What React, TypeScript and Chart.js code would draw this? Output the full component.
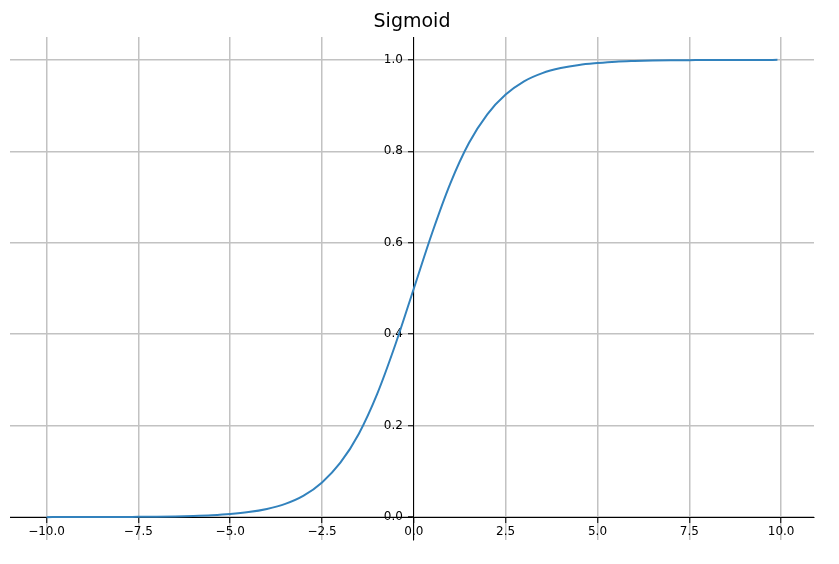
import React, { useEffect, useRef } from 'react';
import { Chart, registerables } from 'chart.js';

Chart.register(...registerables);

const chartTitle = 'Sigmoid';

const xValues = [
  -10, -9.5, -9, -8.5, -8, -7.5, -7, -6.5, -6, -5.5, -5, -4.5, -4, -3.5, -3, -2.5, -2, -1.5, -1, -0.5,
  0, 0.5, 1, 1.5, 2, 2.5, 3, 3.5, 4, 4.5, 5, 5.5, 6, 6.5, 7, 7.5, 8, 8.5, 9, 9.5, 9.9,
];
const yValues = [
  0.0, 0.0001, 0.0001, 0.0002, 0.0003, 0.0006, 0.0009, 0.0015, 0.0025, 0.0041, 0.0067, 0.011, 0.018, 0.029,
  0.047, 0.076, 0.119, 0.182, 0.269, 0.378, 0.5, 0.622, 0.731, 0.818, 0.881, 0.924, 0.953, 0.971, 0.982,
  0.989, 0.993, 0.996, 0.9975, 0.9985, 0.9991, 0.9994, 0.9997, 0.9998, 0.9999, 0.9999, 1.0,
];

const xTicks = [-10, -7.5, -5, -2.5, 0, 2.5, 5, 7.5, 10];
const yTicks = [0, 0.2, 0.4, 0.6, 0.8, 1.0];

const xMin = -10.995;
const xMax = 10.895;
const yMin = -0.05;
const yMax = 1.05;

const fmt = (v: number) => v.toFixed(1).replace('-', '\u2212');

// Chart.js places labels of an axis positioned at a data value right on the axis line;
// shift the y labels left past the tick marks, as matplotlib does.
const yLabelShift = {
  id: 'yLabelShift',
  beforeDraw(chart: any) {
    const scale = chart.scales.y;
    if (!scale || scale._shifted) return;
    const items = scale.getLabelItems(chart.chartArea);
    items.forEach((it: any) => {
      it.options.translation[0] -= 11;
    });
    scale._shifted = true;
  },
  afterUpdate(chart: any) {
    if (chart.scales.y) chart.scales.y._shifted = false;
  },
};

export default function App() {
  const ref = useRef<HTMLCanvasElement>(null);

  useEffect(() => {
    const tickFont = { family: 'DejaVu Sans', size: 12 };
    const gridColor = '#c2c2c2';
    const chart = new Chart(ref.current as HTMLCanvasElement, {
      type: 'line',
      data: {
        datasets: [
          {
            data: xValues.map((x, i) => ({ x, y: yValues[i] })),
            borderColor: '#3282bd',
            borderWidth: 2,
            pointRadius: 0,
            cubicInterpolationMode: 'monotone',
            fill: false,
          },
        ],
      },
      plugins: [yLabelShift],
      options: {
        responsive: false,
        animation: false,
        layout: { padding: { left: 10, right: 25, top: 0, bottom: 24 } },
        plugins: {
          legend: { display: false },
          tooltip: { enabled: false },
          title: {
            display: true,
            text: chartTitle,
            fullSize: false,
            color: '#000',
            font: { family: 'DejaVu Sans', size: 19, weight: 'normal' },
            padding: { top: 10.5, bottom: 3.7 },
          },
        },
        scales: {
          x: {
            type: 'linear',
            min: xMin,
            max: xMax,
            position: { y: 0 },
            afterBuildTicks: (s: any) => {
              s.ticks = xTicks.map((v) => ({ value: v }));
            },
            grid: { color: gridColor, lineWidth: 1.5, tickColor: '#000', tickWidth: 1, tickLength: 5 },
            border: { color: '#000', width: 1 },
            ticks: {
              callback: (v: any) => fmt(Number(v)),
              color: '#000',
              font: tickFont,
              padding: 3,
              maxRotation: 0,
              autoSkip: false,
            },
          },
          y: {
            type: 'linear',
            min: yMin,
            max: yMax,
            position: { x: 0 },
            afterBuildTicks: (s: any) => {
              s.ticks = yTicks.map((v) => ({ value: v }));
            },
            grid: { color: gridColor, lineWidth: 1.5, tickColor: '#000', tickWidth: 1, tickLength: 5 },
            border: { color: '#000', width: 1 },
            ticks: {
              callback: (v: any) => fmt(Number(v)),
              color: '#000',
              font: tickFont,
              padding: 4,
              autoSkip: false,
            },
          },
        },
      } as any,
    });
    return () => chart.destroy();
  }, []);

  return (
    <div style={{ position: 'fixed', left: 0, top: 0, width: 839, height: 564, background: '#fff' }}>
      <canvas ref={ref} width={839} height={564} style={{ display: 'block' }} />
    </div>
  );
}
